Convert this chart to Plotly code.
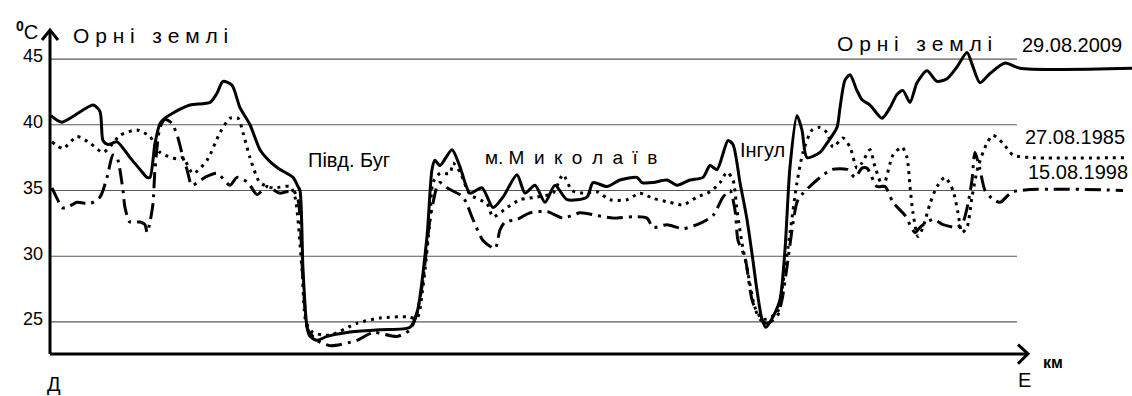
import plotly.graph_objects as go

# Distance along the transect (arbitrary km units, west -> east) and surface temperature, °C
x_2009 = [0.1, 1.2, 4.3, 5.0, 5.3, 5.8, 6.7, 8.0, 9.0, 9.7, 10.0, 10.5, 11.0, 11.5, 12.3, 14.0, 16.0,
          16.7, 17.3, 18.2, 19.0, 20.0, 21.0, 22.0, 23.0, 24.3, 24.8, 25.0, 25.3, 25.7, 26.0, 26.7,
          27.7, 29.7, 33.0, 36.0, 36.7, 37.7, 38.2, 38.5, 39.0, 40.2, 41.0, 42.0, 43.2, 44.3, 45.3,
          46.7, 47.5, 48.5, 49.5, 50.5, 51.7, 53.7, 54.3, 55.7, 57.0, 58.7, 59.2, 60.3, 61.7, 62.7,
          64.0, 65.3, 66.0, 66.7, 67.8, 68.3, 69.0, 69.7, 70.2, 70.7, 71.2, 71.6, 72.3, 73.0, 73.5,
          74.0, 74.7, 75.2, 75.7, 77.0, 77.7, 78.7, 79.0, 79.5, 80.0, 80.7, 81.2, 82.0, 83.2, 84.0,
          84.7, 85.3, 86.0, 86.7, 87.7, 88.7, 89.7, 90.7, 91.7, 92.3, 93.0, 94.0, 95.5, 97.0, 108.2]
t_2009 = [40.7, 40.2, 41.5, 41.0, 38.8, 38.5, 38.7, 37.5, 36.6, 36.0, 36.0, 38.6, 40.1, 40.5, 40.9,
          41.5, 41.7, 42.4, 43.3, 43.0, 41.3, 40.0, 38.1, 37.2, 36.6, 36.0, 35.3, 35.0, 29.0, 24.6,
          23.9, 23.6, 23.9, 24.2, 24.4, 24.6, 25.7, 31.5, 36.6, 37.3, 36.9, 38.1, 36.8, 34.8, 35.2,
          33.7, 34.5, 36.2, 34.8, 35.4, 34.1, 35.4, 34.3, 34.5, 35.6, 35.3, 35.8, 36.0, 35.6, 35.6,
          35.8, 35.4, 35.8, 36.0, 36.9, 36.6, 38.8, 38.5, 35.6, 32.8, 30.2, 27.4, 25.2, 24.6, 25.4,
          26.7, 30.5, 36.8, 40.7, 39.6, 37.5, 37.9, 38.6, 39.8, 41.3, 43.4, 43.8, 42.6, 41.9, 41.5,
          40.5, 41.3, 42.3, 42.6, 41.7, 43.2, 44.1, 43.3, 43.5, 44.4, 45.5, 44.4, 43.2, 43.9, 44.7,
          44.3, 44.3]

x_1985 = [0.2, 1.3, 2.7, 4.0, 5.3, 6.2, 7.0, 8.7, 10.0, 11.0, 12.7, 13.3, 14.3, 15.7, 17.0, 18.0,
          18.8, 19.3, 20.0, 21.0, 22.3, 24.0, 24.5, 25.2, 25.6, 26.3, 28.0, 30.7, 33.0, 35.7, 36.7,
          37.3, 38.0, 38.3, 39.0, 40.0, 40.3, 41.0, 42.0, 43.7, 44.3, 45.7, 47.0, 48.7, 50.3, 51.3,
          52.2, 53.3, 54.7, 56.0, 57.7, 59.0, 60.3, 62.0, 63.3, 64.7, 66.0, 67.0, 67.7, 68.3, 68.7,
          69.2, 69.8, 70.5, 71.3, 72.7, 73.3, 74.0, 74.7, 75.3, 76.2, 77.0, 77.7, 78.3, 79.3, 80.0,
          80.7, 81.2, 82.0, 82.5, 83.3, 84.3, 85.2, 85.7, 86.0, 86.3, 86.8, 87.3, 88.0, 88.7, 89.5,
          90.3, 90.8, 91.2, 91.7, 92.2, 92.8, 93.7, 94.3, 95.3, 96.3, 98.3, 107.5]
t_1985 = [38.7, 38.2, 39.1, 38.6, 37.9, 38.5, 39.2, 39.6, 39.1, 37.9, 37.4, 37.5, 36.3, 37.3, 39.4,
          40.5, 40.5, 39.4, 37.5, 35.6, 35.2, 35.3, 34.5, 29.0, 25.0, 24.2, 24.0, 24.9, 25.3, 25.4,
          25.3, 27.7, 32.8, 35.6, 36.3, 36.3, 37.1, 36.4, 34.7, 34.0, 33.0, 33.7, 34.3, 34.5, 34.8,
          36.2, 35.0, 34.8, 34.9, 34.3, 34.3, 34.8, 34.4, 34.1, 33.9, 34.5, 34.9, 35.6, 36.4, 35.8,
          33.5, 31.0, 28.7, 26.1, 25.2, 25.7, 28.0, 31.8, 35.6, 37.9, 39.6, 39.8, 39.4, 38.3, 39.0,
          38.3, 36.7, 37.1, 38.1, 36.8, 35.3, 37.7, 38.3, 37.5, 35.3, 33.3, 31.5, 32.2, 34.0, 35.3,
          36.0, 35.0, 33.3, 31.8, 32.2, 34.5, 36.8, 38.6, 39.2, 38.6, 37.7, 37.5, 37.5]

x_1998 = [0.2, 0.7, 1.2, 1.7, 2.7, 4.0, 5.0, 5.7, 6.3, 6.7, 7.3, 7.5, 8.0, 9.0, 9.5, 9.7, 10.0,
          10.3, 10.5, 11.0, 11.5, 12.2, 12.8, 13.3, 13.7, 14.2, 15.5, 16.7, 18.0, 18.7, 19.8, 20.7,
          21.7, 23.0, 24.3, 24.8, 25.3, 25.8, 26.7, 28.0, 30.7, 32.3, 34.7, 36.0, 36.7, 37.3, 38.0,
          38.7, 39.0, 39.7, 41.3, 42.3, 43.3, 44.5, 45.0, 45.5, 46.7, 48.0, 49.7, 51.3, 53.0, 54.7,
          56.3, 58.3, 59.7, 60.3, 61.7, 63.3, 65.0, 66.3, 67.3, 68.0, 68.5, 68.8, 69.5, 70.2, 71.0,
          71.7, 72.7, 73.2, 73.7, 74.3, 74.8, 76.7, 78.2, 79.7, 80.5, 81.2, 81.7, 82.7, 83.5, 84.3,
          85.5, 86.5, 87.0, 88.3, 89.3, 90.7, 91.3, 91.8, 92.2, 92.5, 93.0, 93.5, 94.2, 95.0, 96.3,
          107.3]
t_1998 = [35.2, 34.4, 33.7, 33.7, 34.1, 34.0, 34.5, 36.0, 37.7, 37.5, 35.0, 33.7, 32.6, 32.6, 32.4,
          31.8, 32.6, 34.0, 36.6, 39.8, 40.4, 40.1, 39.0, 37.5, 36.6, 35.4, 36.0, 36.3, 35.4, 36.0,
          35.6, 34.7, 35.3, 34.8, 35.0, 34.3, 28.2, 24.4, 23.6, 23.2, 23.6, 24.2, 23.9, 24.4, 25.7,
          28.2, 32.8, 35.3, 35.6, 35.2, 34.5, 32.8, 31.2, 30.6, 32.0, 32.6, 32.8, 33.3, 33.4, 32.9,
          33.3, 33.1, 32.9, 33.0, 32.9, 32.2, 32.4, 32.1, 32.5, 33.1, 34.5, 35.0, 33.5, 31.2, 29.9,
          26.7, 25.2, 24.9, 25.4, 26.7, 29.2, 32.5, 34.3, 35.8, 36.6, 36.6, 36.0, 36.7, 36.7, 35.3,
          35.3, 34.1, 33.1, 31.8, 32.2, 32.8, 32.4, 32.2, 32.6, 34.0, 35.8, 37.9, 36.6, 35.0, 34.4,
          34.1, 34.9, 35.0]

grid_levels = [25, 30, 35, 40, 45]
tick_text = ["25", "30", "35", "40", "45"]

X_MAX = 108.2            # right edge of the drawing area, km units
Y_MIN, Y_MAX = 21.65, 47.97
AXIS_BOTTOM, AXIS_TOP = 22.57, 47.2
AXIS_RIGHT = 97.8
GRID_RIGHT = 96.7

FONT = "Liberation Sans, Arial, sans-serif"
INK = "black"
EN = "\u2002"


def xp(x):
    return x / X_MAX


def yp(y):
    return (y - Y_MIN) / (Y_MAX - Y_MIN)


fig = go.Figure()

fig.add_trace(go.Scatter(x=x_2009, y=t_2009, mode="lines", name="29.08.2009",
                         line=dict(color=INK, width=3, shape="spline", smoothing=0.7)))
fig.add_trace(go.Scatter(x=x_1985, y=t_1985, mode="lines", name="27.08.1985",
                         line=dict(color=INK, width=3, dash="3px,5px", shape="spline", smoothing=0.7)))
fig.add_trace(go.Scatter(x=x_1998, y=t_1998, mode="lines", name="15.08.1998",
                         line=dict(color=INK, width=3, dash="16px,6px,3px,6px", shape="spline",
                                   smoothing=0.7)))

shapes = []
for lvl in grid_levels:
    shapes.append(dict(type="line", xref="paper", yref="paper", x0=xp(0), x1=xp(GRID_RIGHT),
                       y0=yp(lvl), y1=yp(lvl), line=dict(color="#5a5a5a", width=1.2), layer="below"))

# axes with open arrow heads
shapes.append(dict(type="line", xref="paper", yref="paper", x0=xp(0), x1=xp(0),
                   y0=yp(AXIS_BOTTOM), y1=yp(AXIS_TOP), line=dict(color=INK, width=3)))
shapes.append(dict(type="line", xref="paper", yref="paper", x0=xp(0), x1=xp(AXIS_RIGHT),
                   y0=yp(AXIS_BOTTOM), y1=yp(AXIS_BOTTOM), line=dict(color=INK, width=3)))
dx, dy = 0.8, 0.75
shapes.append(dict(type="path", xref="paper", yref="paper",
                   path=f"M {xp(-dx)} {yp(AXIS_TOP - dy)} L {xp(0)} {yp(AXIS_TOP)} L {xp(dx)} {yp(AXIS_TOP - dy)}",
                   line=dict(color=INK, width=3)))
shapes.append(dict(type="path", xref="paper", yref="paper",
                   path=f"M {xp(AXIS_RIGHT - 1.0)} {yp(AXIS_BOTTOM + 0.7)} L {xp(AXIS_RIGHT)} {yp(AXIS_BOTTOM)} "
                        f"L {xp(AXIS_RIGHT - 1.0)} {yp(AXIS_BOTTOM - 0.75)}",
                   line=dict(color=INK, width=3)))

annotations = []


def label(text, x, y, size=20):
    annotations.append(dict(text=text, x=xp(x), y=yp(y), xref="paper", yref="paper",
                            xanchor="center", yanchor="middle",
                            showarrow=False, font=dict(family=FONT, size=size, color=INK)))


label("<b><sup>0</sup></b>C", -2.3, 47.2, size=20)
label("О р н і   з е м л і", 10.0, 46.8, size=21)
label("О р н і   з е м л і", 86.4, 46.2, size=21)
label("29.08.2009", 102.2, 46.1)
label("27.08.1985", 102.5, 39.1)
label("15.08.1998", 102.8, 36.4)
label("Півд. Буг", 29.9, 37.3)
label("м. " + EN.join("Миколаїв"), 52.1, 37.5, size=19)
label("Інгул", 71.3, 38.1)
label("Д", 0.4, 20.3)
label("Е", 97.4, 20.6)
label("<b>км</b>", 100.3, 21.9, size=16)

fig.update_layout(
    width=1132, height=396,
    margin=dict(l=50, r=0, t=20, b=30),
    plot_bgcolor="white", paper_bgcolor="white",
    showlegend=False,
    shapes=shapes,
    annotations=annotations,
    xaxis=dict(range=[0, X_MAX], visible=False, fixedrange=True),
    yaxis=dict(range=[Y_MIN, Y_MAX], tickvals=grid_levels, ticktext=tick_text,
               showgrid=False, zeroline=False, showline=False, ticks="",
               ticklabelstandoff=6, ticklabelshift=-3,
               tickfont=dict(family=FONT, size=18, color=INK)),
)

fig.write_html("out.html")
